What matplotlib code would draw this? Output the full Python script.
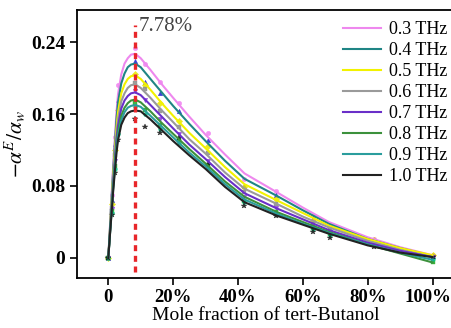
import numpy as np
import matplotlib
matplotlib.use("Agg")
import matplotlib.pyplot as plt
import matplotlib.transforms as mtransforms

# ---- data ----
labels = ["0.3 THz", "0.4 THz", "0.5 THz", "0.6 THz",
          "0.7 THz", "0.8 THz", "0.9 THz", "1.0 THz"]

# fitted curves
line_x = [0, 0.005, 0.01, 0.015, 0.02, 0.025, 0.03, 0.04, 0.05, 0.06, 0.07, 0.083,
          0.1, 0.13, 0.165, 0.2, 0.25, 0.3, 0.36, 0.42, 0.52, 0.6, 0.68, 0.8, 0.9, 1.0]
fit_03 = [0, 0.034, 0.068, 0.102, 0.132, 0.161, 0.182, 0.204, 0.216, 0.222, 0.226, 0.227,
          0.222, 0.209, 0.193, 0.178, 0.157, 0.137, 0.115, 0.094, 0.073, 0.056, 0.040, 0.023, 0.012, 0.003]
fit_04 = [0, 0.032, 0.065, 0.097, 0.125, 0.153, 0.173, 0.194, 0.205, 0.212, 0.215, 0.216,
          0.212, 0.199, 0.184, 0.169, 0.149, 0.130, 0.108, 0.088, 0.069, 0.053, 0.038, 0.021, 0.011, 0.002]
fit_05 = [0, 0.030, 0.061, 0.091, 0.118, 0.144, 0.162, 0.183, 0.193, 0.199, 0.202, 0.203,
          0.199, 0.187, 0.172, 0.158, 0.139, 0.122, 0.101, 0.082, 0.064, 0.050, 0.036, 0.021, 0.011, 0.003]
fit_06 = [0, 0.029, 0.058, 0.087, 0.112, 0.137, 0.154, 0.174, 0.183, 0.189, 0.192, 0.193,
          0.189, 0.178, 0.164, 0.151, 0.132, 0.116, 0.095, 0.077, 0.060, 0.046, 0.034, 0.019, 0.009, 0.001]
fit_07 = [0, 0.028, 0.055, 0.083, 0.107, 0.131, 0.147, 0.166, 0.175, 0.180, 0.183, 0.184,
          0.181, 0.170, 0.157, 0.144, 0.126, 0.110, 0.090, 0.072, 0.055, 0.043, 0.031, 0.017, 0.008, 0.001]
fit_08 = [0, 0.026, 0.053, 0.079, 0.102, 0.125, 0.141, 0.158, 0.167, 0.172, 0.175, 0.176,
          0.173, 0.163, 0.150, 0.138, 0.121, 0.105, 0.085, 0.068, 0.051, 0.040, 0.029, 0.015, 0.005, -0.005]
fit_09 = [0, 0.026, 0.051, 0.077, 0.099, 0.121, 0.136, 0.153, 0.162, 0.167, 0.169, 0.170,
          0.168, 0.158, 0.146, 0.134, 0.117, 0.102, 0.082, 0.065, 0.049, 0.038, 0.028, 0.015, 0.006, -0.002]
fit_10 = [0, 0.025, 0.049, 0.074, 0.095, 0.116, 0.131, 0.148, 0.156, 0.161, 0.163, 0.164,
          0.163, 0.154, 0.142, 0.130, 0.114, 0.099, 0.079, 0.062, 0.047, 0.037, 0.027, 0.014, 0.006, 0.001]

# measured points
mark_x = [0, 0.01, 0.02, 0.03, 0.083, 0.114, 0.161, 0.218, 0.308, 0.42, 0.518, 0.632, 0.683, 0.818, 1.0]
pts_03 = [0, 0.070, 0.135, 0.192, 0.233, 0.216, 0.196, 0.172, 0.139, 0.088, 0.074, 0.047, 0.037, 0.021, 0.003]
pts_04 = [0, 0.064, 0.127, 0.176, 0.219, 0.196, 0.183, 0.163, 0.131, 0.080, 0.070, 0.044, 0.036, 0.020, 0.002]
pts_05 = [0, 0.060, 0.120, 0.165, 0.205, 0.192, 0.172, 0.152, 0.124, 0.079, 0.065, 0.041, 0.034, 0.020, 0.003]
pts_06 = [0, 0.056, 0.114, 0.156, 0.195, 0.188, 0.163, 0.146, 0.117, 0.073, 0.060, 0.038, 0.032, 0.018, 0.001]
pts_07 = [0, 0.054, 0.108, 0.148, 0.186, 0.176, 0.155, 0.138, 0.108, 0.068, 0.055, 0.035, 0.029, 0.017, 0.001]
pts_08 = [0, 0.052, 0.102, 0.142, 0.172, 0.165, 0.148, 0.131, 0.103, 0.063, 0.051, 0.033, 0.027, 0.014, -0.004]
pts_09 = [0, 0.050, 0.099, 0.138, 0.168, 0.160, 0.143, 0.128, 0.100, 0.062, 0.049, 0.032, 0.026, 0.015, -0.001]
pts_10 = [0, 0.048, 0.094, 0.131, 0.155, 0.146, 0.139, 0.133, 0.103, 0.058, 0.047, 0.029, 0.022, 0.012, 0.001]

peak_x = 0.083
peak_label = "7.78%"

x_ticks = [0, 0.2, 0.4, 0.6, 0.8, 1.0]
x_ticklabels = ["0", "20%", "40%", "60%", "80%", "100%"]
y_ticks = [0, 0.08, 0.16, 0.24]
y_ticklabels = ["0", "0.08", "0.16", "0.24"]

fits = [fit_03, fit_04, fit_05, fit_06, fit_07, fit_08, fit_09, fit_10]
pts = [pts_03, pts_04, pts_05, pts_06, pts_07, pts_08, pts_09, pts_10]

line_colors = ["#ee88ee", "#1f8585", "#f2f200", "#9a9a9a",
               "#6a2fc8", "#3c913c", "#2a9d9d", "#222222"]
mark_colors = ["#f080f0", "#1c1cd0", "#e8e800", "#8c8c8c",
               "#8a2be2", "#22aa22", "#00c88a", "#111111"]
mark_styles = ["o", "^", "D", "s", "v", "s", "p", "*"]

plt.rcParams["font.family"] = ["Liberation Serif", "DejaVu Serif"]
plt.rcParams["mathtext.fontset"] = "stix"

fig = plt.figure(figsize=(4.52, 3.28), dpi=100)
ax = fig.add_axes([0.170, 0.1515, 0.835, 0.818])

for fy, py, lc, mc, ms, lab in zip(fits, pts, line_colors, mark_colors, mark_styles, labels):
    ax.plot(mark_x, py, linestyle="none", marker=ms, markersize=3.2 if ms != "*" else 4.2,
            color=mc, markeredgewidth=0.3, alpha=0.85, zorder=2)
    ax.plot(line_x, fy, color=lc, linewidth=1.5, label=lab, zorder=3)

ax.plot([peak_x, peak_x], [-0.016, 0.259], color="#e8262a", linewidth=2.4,
        linestyle=(0, (1.8, 1.4)), zorder=4)
ax.text(peak_x + 0.011, 0.257, peak_label, fontsize=15, color="#444444",
        va="center", ha="left")

ax.set_xlim(-0.097, 1.067)
ax.set_ylim(-0.0226, 0.2756)
ax.set_xticks(x_ticks)
ax.set_xticklabels(x_ticklabels)
ax.set_yticks(y_ticks)
ax.set_yticklabels(y_ticklabels)
ax.tick_params(axis="both", direction="out", length=5, width=1.2)
ax.tick_params(axis="y", labelsize=14)
ax.tick_params(axis="x", labelsize=13.5, pad=2.5)
for t in ax.get_xticklabels() + ax.get_yticklabels():
    t.set_fontweight("bold")

# the last x label sits a little left of its tick, as in the original
last = ax.get_xticklabels()[-1]
last.set_transform(last.get_transform() +
                   mtransforms.ScaledTranslation(-5 / 100, 0, fig.dpi_scale_trans))

for side in ["left", "bottom", "top"]:
    ax.spines[side].set_linewidth(1.3)
ax.spines["right"].set_visible(False)

ax.set_xlabel("Mole fraction of tert-Butanol", fontsize=14, labelpad=1)
ax.set_ylabel(r"$-\alpha^{E}/\alpha_{w}$", fontsize=15.5, labelpad=2)

ax.legend(loc="upper right", bbox_to_anchor=(1.0, 0.985), frameon=False, fontsize=13,
          handlelength=2.1, labelspacing=0.22, handletextpad=0.4, borderaxespad=0.0)

fig.savefig("out.png", dpi=100)
